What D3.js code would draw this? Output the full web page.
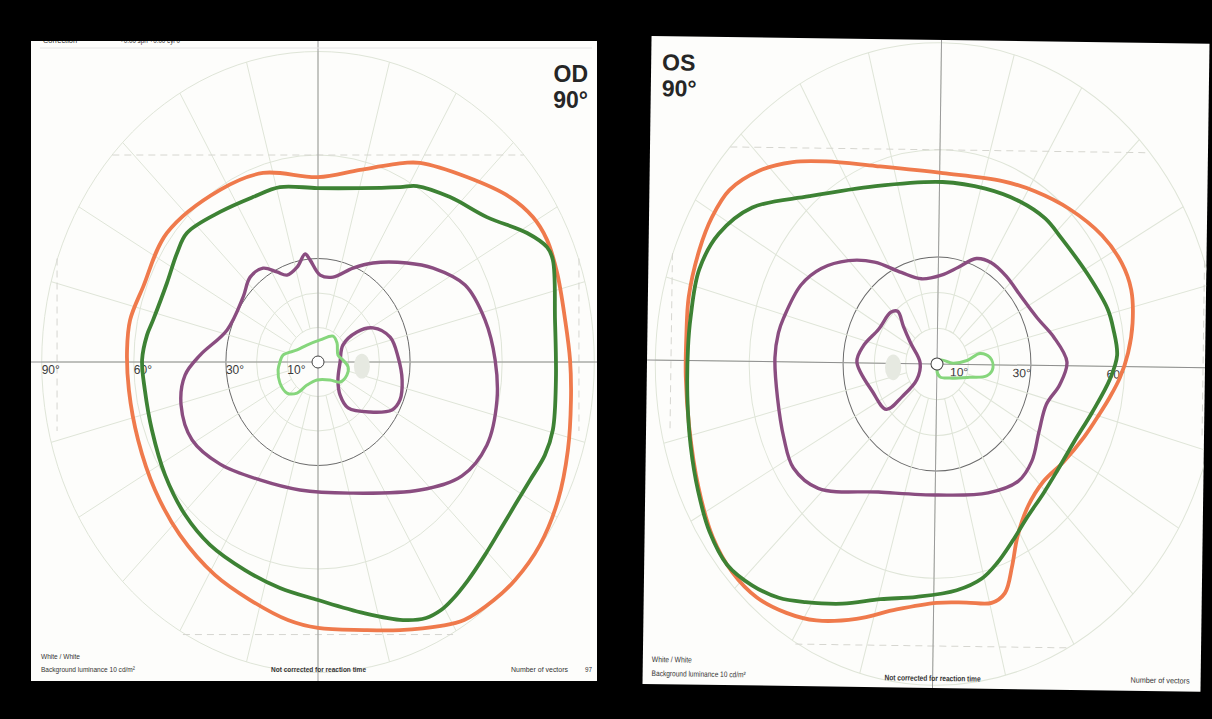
<!DOCTYPE html>
<html><head><meta charset="utf-8">
<script src="https://cdn.jsdelivr.net/npm/d3@7/dist/d3.min.js"></script>
<style>body{margin:0;background:#000;}svg{display:block;}</style>
</head><body>
<svg id="chart" width="1212" height="719"></svg>
<script>
// ---------- grid definitions ----------
const ringDegrees = [10, 20, 30, 60, 90];
const meridianAngles = d3.range(0, 360, 15);
const odAxisLabels = [90, 60, 30, 10];
const osAxisLabels = [60, 30, 10];

// ---------- isopters, [horizontal°, vertical°] (OD) ----------
const odOrange = [[0,53.6],[13.7,55.7],[28.3,57.7],[33.2,57.7],[48.5,53.6],[62.5,47.8],[70,42],[74.6,35.4],[77.9,25.8],[80.5,12.2],[82.1,0.6],[82.4,-11],[81.4,-25.5],[78.2,-40],[72.3,-53],[64.2,-63.2],[57.3,-69],[47.6,-74.8],[40.1,-76.5],[26.7,-77.7],[15,-77.7],[0,-77.1],[-9.8,-74.8],[-22.1,-69],[-33.6,-61.7],[-45,-50.1],[-53.1,-37.1],[-58.6,-22.6],[-61.6,-8.1],[-62.2,3.5],[-61.2,12.2],[-57,21.7],[-49.2,37.4],[-31.9,49.9],[-17.9,54.8]];
const odGreen = [[-12.4,50.7],[-0.3,50.4],[13.7,50.4],[26.7,50.7],[32.2,51],[43,47.8],[55,42],[68.1,37.4],[74.6,33.3],[76.5,29.6],[77.2,12.2],[77.5,-5.2],[76.5,-19.7],[73.9,-27],[69.1,-34.2],[64.2,-41.4],[59.3,-48.7],[54.4,-55.9],[48.9,-63.2],[43.6,-69],[40.1,-71.9],[35.2,-74.2],[27.7,-74.8],[15,-72.8],[0,-69],[-12.4,-65.5],[-23.8,-60.3],[-35.2,-53],[-43.3,-44.3],[-49.8,-32.8],[-54.1,-19.7],[-56.4,-8.1],[-57.3,0.6],[-55.7,7.8],[-53.7,12.2],[-49.2,22.9],[-45.9,31.6],[-42.7,37.4],[-31.9,43.5],[-21.2,47.8]];
const odPurple = [[-22.1,24.6],[-17.9,27.2],[-13.4,26.1],[-10.1,25.2],[-6.8,27.5],[-4.2,31.3],[-2.6,29.6],[0.7,25.2],[4.9,24.6],[11.4,27.2],[17.9,28.7],[29,28.7],[37.5,27.2],[47.9,22.3],[54.4,12.2],[57.7,0.6],[58.3,-11],[55,-24.1],[46.9,-33],[33.2,-37.1],[10.4,-38],[-5.9,-37.1],[-18.9,-34.2],[-31.9,-29.6],[-41,-22.6],[-44.6,-12.5],[-43.3,-3.8],[-38.4,2],[-29.6,9.3],[-24.4,18.8]];
const odPurpleInner = [[8.1,4.9],[12.7,8.7],[17.9,9.9],[23.5,7.2],[26.1,1.4],[27.4,-5.2],[26.7,-11],[24.1,-13.9],[16.9,-14.5],[9.8,-13.3],[7.2,-9.6],[6.5,-5.2],[7.2,0]];
const odLightGreen = [[-11.4,2],[-6.8,3.5],[-3.6,4.9],[0.7,6.4],[4.9,7.5],[6.2,5.5],[6.5,2],[8.1,0.6],[9.8,-1.4],[9.4,-3.8],[7.2,-5.8],[3.9,-5.2],[-0.3,-5.2],[-3.6,-6.7],[-6.8,-9],[-10.1,-9],[-12.4,-6.1],[-13,-2.3],[-12.4,0]];
const odBlindSpot = [14.3, -1.2];

// ---------- isopters (OS) ----------
const osOrange = [[1,53.5],[20.1,51.5],[30.7,48.7],[41.5,44],[52.1,36.7],[58.5,29.1],[61.7,21.6],[62.3,12.3],[61,3.9],[58.5,-3.1],[55.3,-8.7],[52.1,-13.4],[47.3,-19.9],[40.9,-26.9],[34.5,-32.5],[29.7,-39.5],[26.5,-47.9],[24.9,-56.3],[22.7,-63.9],[18.5,-66.7],[10.5,-66.7],[1,-66.9],[-11.8,-68.9],[-24.6,-71.7],[-37.4,-72.3],[-47,-70.3],[-56.5,-66.1],[-64.5,-59.1],[-70.9,-49.3],[-75.7,-35.3],[-78.9,-18.5],[-80.2,-4.5],[-80.2,6.7],[-79.6,17.9],[-76.4,31.1],[-72.5,40.3],[-67.1,47.9],[-57.5,53.5],[-47,56],[-36.4,56.3],[-20.4,55.2]];
const osGreen = [[1,51],[14.7,49.3],[25.6,45.9],[33.9,41.2],[39.3,35.6],[47.9,25.5],[54.3,16],[56.2,10.4],[57.5,3.1],[55.3,-3.6],[49.8,-12.9],[44.1,-21.3],[38.7,-29.7],[34.5,-35.9],[29.7,-42.3],[24.9,-49.3],[20.1,-55.5],[15.3,-59.9],[7.3,-63.3],[-5.4,-65.3],[-16.9,-66.1],[-29.1,-67.5],[-40.9,-67.2],[-49.5,-66.1],[-58.1,-62.7],[-66.1,-57.1],[-71.9,-47.9],[-75.7,-36.7],[-78.3,-24.1],[-79.6,-10.1],[-79.6,3.9],[-78.9,12.3],[-76.4,25.5],[-70.3,35.6],[-59.7,43.1],[-41.5,46.5],[-20.4,49.6]];
const osPurple = [[-49.2,12.3],[-43.8,21.6],[-37.4,26.3],[-28.8,28.6],[-20.4,28.3],[-11.8,25.5],[-5.4,23.8],[1,24.9],[6.4,27.2],[12.1,29.7],[16.9,28.6],[21.7,24.9],[26.5,19.3],[31.9,13.2],[37.1,8.1],[41.5,1.1],[39.3,-5.3],[35.1,-10.9],[32.9,-18.5],[30.7,-26.9],[26.5,-32.5],[16.9,-35.9],[1,-36.7],[-18.2,-36.1],[-37.4,-35.3],[-45.4,-29.7],[-48.6,-21.3],[-50.8,-10.1],[-51.8,1.1],[-50.8,8.1]];
const osPurpleInner = [[-15,14.3],[-12.8,14.6],[-10.9,10.4],[-8.6,5.9],[-5.4,0.3],[-6.4,-4.5],[-10.9,-9.2],[-16,-12.9],[-20.4,-8.1],[-25.6,0.3],[-23.6,4.8],[-18.8,9.5]];
const osLightGreen = [[1,1.1],[5.1,0.3],[9.6,1.1],[13.7,3.1],[16.9,2],[17.9,-0.8],[16,-3.1],[10.5,-3.6],[4.2,-3.9],[1,-3.6],[0,-1.7]];
const osBlindSpot = [-14, -1.1];

const isopterColors = {orange:"#ef7a4c", green:"#3d8234", purple:"#8a4d80", light:"#86d67c"};

const svg = d3.select("#chart");
svg.append("rect").attr("width",1212).attr("height",719).attr("fill","#000");
const defs = svg.append("defs");

function drawPanel(p){
  defs.append("clipPath").attr("id","clip-"+p.eye)
    .append("rect").attr("x",p.box[0]).attr("y",p.box[1])
    .attr("width",p.box[2]-p.box[0]).attr("height",p.box[3]-p.box[1]);
  const g = svg.append("g").attr("transform",`rotate(${p.rot},${p.cx},${p.cy})`);
  g.append("rect").attr("x",p.box[0]).attr("y",p.box[1])
    .attr("width",p.box[2]-p.box[0]).attr("height",p.box[3]-p.box[1]).attr("fill","#fdfdfb");
  const c = g.append("g").attr("clip-path",`url(#clip-${p.eye})`);
  const x = d3.scaleLinear().domain([-90,90]).range([p.cx-90*p.sx, p.cx+90*p.sx]);
  const y = d3.scaleLinear().domain([-90,90]).range([p.cy+90*p.sy, p.cy-90*p.sy]);
  const gridCol = "#dfe5d8";

  // rings
  c.selectAll("ellipse.ring").data(ringDegrees).join("ellipse").attr("class","ring")
    .attr("cx",x(0)).attr("cy",y(0))
    .attr("rx",d=>x(d)-x(0)).attr("ry",d=>y(0)-y(d))
    .attr("fill","none").attr("stroke",d=>d===30?"#6a6a6a":gridCol)
    .attr("stroke-width",1);
  // meridians
  const rad = a=>a*Math.PI/180;
  c.selectAll("line.mer").data(meridianAngles).join("line").attr("class","mer")
    .attr("x1",a=>x(10*Math.cos(rad(a)))).attr("y1",a=>y(10*Math.sin(rad(a))))
    .attr("x2",a=>x(90*Math.cos(rad(a)))).attr("y2",a=>y(90*Math.sin(rad(a))))
    .attr("stroke",gridCol).attr("stroke-width",1);
  // dashed frame lines
  const dash = [
    [[-67,60],[67,60]],
    [[-44,-79],[44,-79]],
    [[-85,30],[-85,-20]],
    [[85,30],[85,-20]]
  ];
  c.selectAll("line.dash").data(dash).join("line").attr("class","dash")
    .attr("x1",d=>x(d[0][0])).attr("y1",d=>y(d[0][1]))
    .attr("x2",d=>x(d[1][0])).attr("y2",d=>y(d[1][1]))
    .attr("stroke","#d6d6d0").attr("stroke-width",1).attr("stroke-dasharray","7,5");
  // axes
  c.append("line").attr("x1",p.box[0]).attr("x2",p.box[2]).attr("y1",y(0)).attr("y2",y(0))
    .attr("stroke","#8e8e8e").attr("stroke-width",1);
  c.append("line").attr("x1",x(0)).attr("x2",x(0)).attr("y1",p.box[1]).attr("y2",p.box[3])
    .attr("stroke","#9a9a9a").attr("stroke-width",1);
  // blind spot
  c.append("ellipse").attr("cx",x(p.blind[0])).attr("cy",y(p.blind[1]))
    .attr("rx",x(2.6)-x(0)).attr("ry",y(0)-y(3.6)).attr("fill","#e6e9e1");
  // axis labels
  c.selectAll("text.ax").data(p.labels).join("text").attr("class","ax")
    .attr("x",d=>x(p.side*d)).attr("y",y(0)+12)
    .attr("text-anchor",p.side<0?"start":"end")
    .attr("font-family","Liberation Sans, Arial, sans-serif").attr("font-size",12)
    .attr("fill","#3a3a3a").text(d=>d+"°");
  // isopters
  const line = d3.line().x(d=>x(d[0])).y(d=>y(d[1])).curve(d3.curveCatmullRomClosed.alpha(0.5));
  const iso = [
    {d:p.orange, c:isopterColors.orange, w:3.8},
    {d:p.green, c:isopterColors.green, w:3.8},
    {d:p.purple, c:isopterColors.purple, w:3.4},
    {d:p.purpleInner, c:isopterColors.purple, w:3.4},
    {d:p.light, c:isopterColors.light, w:3}
  ];
  c.selectAll("path.iso").data(iso).join("path").attr("class","iso")
    .attr("d",d=>line(d.d)).attr("fill","none").attr("stroke",d=>d.c)
    .attr("stroke-width",d=>d.w).attr("stroke-linejoin","round");
  // fixation circle
  c.append("circle").attr("cx",x(0)).attr("cy",y(0)).attr("r",6)
    .attr("fill","#fff").attr("stroke","#444").attr("stroke-width",1);
  // eye title
  const tf = "Liberation Sans, Arial, sans-serif";
  c.append("text").attr("x",p.title[0]).attr("y",p.title[1]).attr("text-anchor",p.title[2])
    .attr("font-family",tf).attr("font-weight","bold").attr("font-size",23).attr("fill","#262626").text(p.eye);
  c.append("text").attr("x",p.title[0]).attr("y",p.title[1]+26).attr("text-anchor",p.title[2])
    .attr("font-family",tf).attr("font-weight","bold").attr("font-size",23).attr("fill","#262626").text("90°");
  // footer
  const ff = "Liberation Sans Narrow, Arial Narrow, Liberation Sans, sans-serif";
  p.footer.forEach(t=>{
    c.append("text").attr("x",t.x).attr("y",t.y).attr("text-anchor",t.a||"start")
      .attr("font-family",ff).attr("font-size",8).attr("font-weight",t.b?"bold":"normal")
      .attr("fill","#333").attr("textLength",t.w).attr("lengthAdjust","spacingAndGlyphs").text(t.s);
  });
  return c;
}

const od = drawPanel({
  eye:"OD", box:[31,41,597,681], cx:318, cy:362, sx:3.07, sy:3.45, rot:0,
  side:-1, labels:odAxisLabels, blind:odBlindSpot,
  orange:odOrange, green:odGreen, purple:odPurple, purpleInner:odPurpleInner, light:odLightGreen,
  title:[588,82,"end"],
  footer:[
    {s:"White / White", x:41, y:659, w:39},
    {s:"Background luminance 10 cd/m²", x:41, y:672, w:94},
    {s:"Not corrected for reaction time", x:271, y:672, w:95, b:true},
    {s:"Number of vectors", x:511, y:672, w:57},
    {s:"97", x:585, y:672, w:7},
    {s:"Correction", x:43, y:43, w:34},
    {s:"+0.00 sph +0.00 cyl 0", x:120, y:43, w:60}
  ]
});
od.append("line").attr("x1",40).attr("x2",592).attr("y1",48).attr("y2",48).attr("stroke","#e4e4e4");

drawPanel({
  eye:"OS", box:[647,40,1205,688], cx:937, cy:364, sx:3.13, sy:3.57, rot:0.8,
  side:1, labels:osAxisLabels, blind:osBlindSpot,
  orange:osOrange, green:osGreen, purple:osPurple, purpleInner:osPurpleInner, light:osLightGreen,
  title:[658,74,"start"],
  footer:[
    {s:"White / White", x:656, y:666, w:40},
    {s:"Background luminance 10 cd/m²", x:656, y:680, w:94},
    {s:"Not corrected for reaction time", x:889, y:681, w:96, b:true},
    {s:"Number of vectors", x:1135, y:680, w:59}
  ]
});
</script>
</body></html>
